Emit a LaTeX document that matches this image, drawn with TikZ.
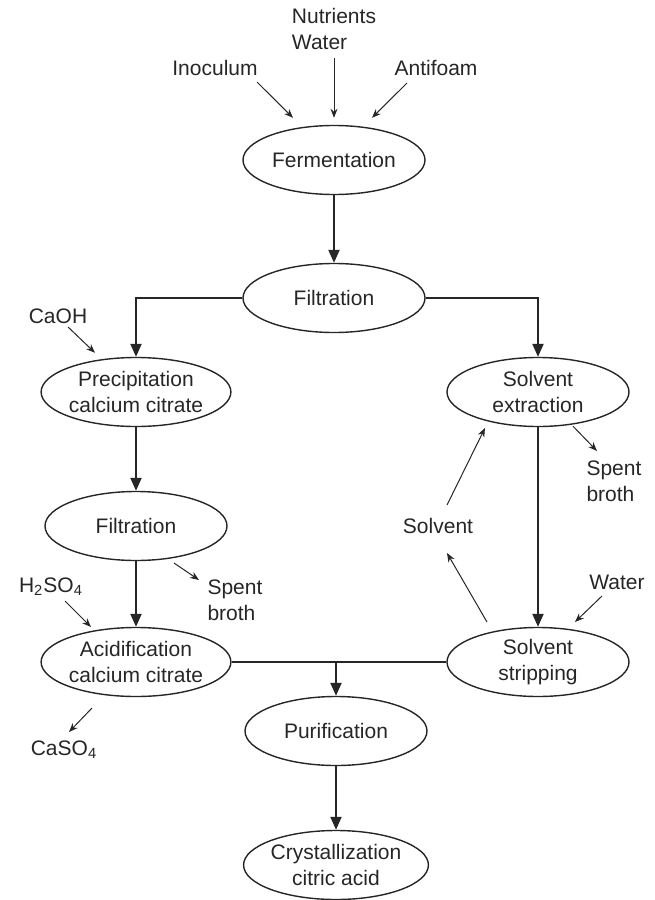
\documentclass[tikz,border=0pt]{standalone}
\usepackage{fontspec}
\setmainfont{Liberation Sans}
\usetikzlibrary{shapes.geometric,arrows.meta,calc}
\begin{document}
\begin{tikzpicture}[x=0.5pt,y=-0.5pt,
    every node/.style={font=\fontsize{10.5}{13}\selectfont, text=black!85},
    proc/.style={ellipse, draw=black!85, line width=0.7pt, minimum width=91pt, minimum height=34.5pt, inner sep=0pt, align=center},
    lbl/.style={inner sep=1pt, align=left},
    flow/.style={-{Triangle[length=6.5pt,width=5.5pt]}, line width=1.1pt, draw=black!85},
    feed/.style={-{Stealth[length=4.5pt,width=3.5pt]}, line width=0.5pt, draw=black!85}]
\useasboundingbox (0,0) rectangle (654,900);

% process steps
\node[proc] (ferm) at (334,160) {Fermentation};
\node[proc] (filtA) at (334,298) {Filtration};
\node[proc] (prec) at (136,392) {Precipitation\\calcium citrate};
\node[proc] (filtB) at (136,526) {Filtration};
\node[proc] (acid) at (136,662) {Acidification\\calcium citrate};
\node[proc] (sext) at (538,392) {Solvent\\extraction};
\node[proc] (sstrip) at (538,662) {Solvent\\stripping};
\node[proc] (puri) at (336,731) {Purification};
\node[proc] (cryst) at (336,865) {Crystallization\\citric acid};

% inputs and outputs
\node[lbl] (nutr) at (334,29) {Nutrients\\Water};
\node[lbl] (inoc) at (215,68) {Inoculum};
\node[lbl] (anti) at (436,68) {Antifoam};
\node[lbl] (caoh) at (58,316) {CaOH};
\node[lbl] (spentA) at (614,481) {Spent\\broth};
\node[lbl] (solv) at (438,526) {Solvent};
\node[lbl] (waterB) at (617,582) {Water};
\node[lbl] (hso) at (51,587) {H\textsubscript{2}SO\textsubscript{4}};
\node[lbl] (spentB) at (235,600) {Spent\\broth};
\node[lbl] (caso) at (64,750) {CaSO\textsubscript{4}};

% main flow
\draw[flow] (ferm.south) -- (filtA.north);
\draw[flow] (filtA.west) -| (prec.north);
\draw[flow] (filtA.east) -| (sext.north);
\draw[flow] (prec.south) -- (filtB.north);
\draw[flow] (filtB.south) -- (acid.north);
\draw[flow] (sext.south) -- (sstrip.north);
\draw[line width=1.1pt, draw=black!85] (acid.east) -- (sstrip.west);
\draw[flow] (acid.east -| puri.north) -- (puri.north);
\draw[flow] (puri.south) -- (cryst.north);

% feeds
\draw[feed] ($(nutr)+(0,29)$) -- ($(ferm.north)+(0,-7)$);
\draw[feed] ($(inoc)+(42,14)$) -- ($(ferm.north)+(-41,-7)$);
\draw[feed] ($(anti)+(-29,15)$) -- ($(ferm.north)+(38,-7)$);
\draw[feed] ($(caoh)+(10,11)$) -- ($(prec.north)+(-41,-4)$);
\draw[feed] ($(sext.south)+(35,-1)$) -- ($(spentA)+(-17,-30)$);
\draw[feed] ($(solv)+(9,-21)$) -- ($(sext)+(-53,36)$);
\draw[feed] ($(sstrip)+(-51,-40)$) -- ($(solv)+(9,27)$);
\draw[feed] ($(waterB)+(-15,14)$) -- ($(sstrip)+(37,-40)$);
\draw[feed] ($(hso)+(14,14)$) -- ($(acid)+(-45,-35)$);
\draw[feed] ($(filtB)+(38,37)$) -- ($(spentB)+(-36,-20)$);
\draw[feed] ($(acid)+(-44,46)$) -- ($(caso)+(5,-18)$);
\end{tikzpicture}
\end{document}
